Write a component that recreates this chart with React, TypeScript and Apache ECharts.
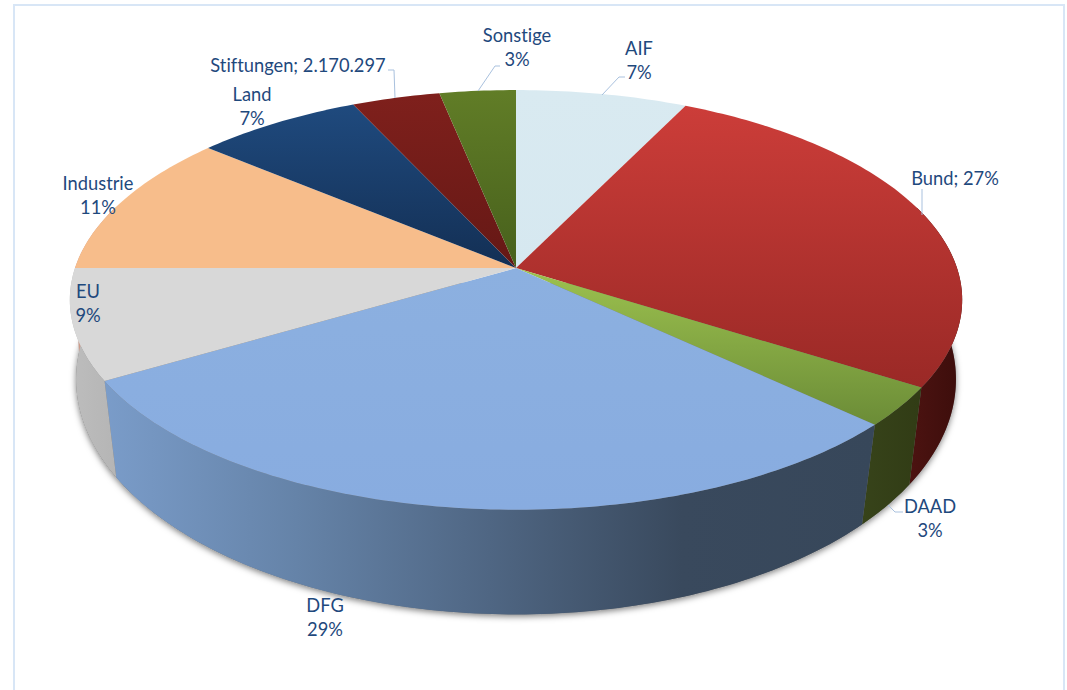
import React, { useEffect, useRef } from "react";
import * as echarts from "echarts";

const categories = ["AIF", "Bund", "DAAD", "DFG", "EU", "Industrie", "Land", "Stiftungen", "Sonstige"];
const shares = [7.2, 26.8, 3.0, 29.5, 8.5, 11.1, 7.0, 3.7, 3.2];
const labelValues = ["7%", "27%", "3%", "29%", "9%", "11%", "7%", "2.170.297", "3%"];
const labelSeparators = ["\n", "; ", "\n", "\n", "\n", "\n", "\n", "; ", "\n"];

const topStops = [
  ["#d9eaf1", "#d6e8f0"],
  ["#cc3d39", "#9a2926"],
  ["#9dc24f", "#6b8c37"],
  ["#8cb0e0", "#88ace0"],
  ["#d8d8d8", "#d8d8d8"],
  ["#f7bd8b", "#f7bd8b"],
  ["#1f4a7e", "#132f54"],
  ["#7f201c", "#651815"],
  ["#617d27", "#47601c"],
];
const wallStops = [
  ["#88aaaa", "#88aaaa"],
  ["#4c1311", "#3c0d0b"],
  ["#37431a", "#313c15"],
  ["#7a9cc9", "#6583a8", "#4f6683", "#39495d", "#37475a"],
  ["#bdbdbd", "#b5b5b5"],
  ["#cc9988", "#cc9988"],
  ["#112233", "#112233"],
  ["#551111", "#551111"],
  ["#334411", "#334411"],
];

const labelPlaces = [
  { x: 639, y: 60 },
  { x: 955, y: 178 },
  { x: 930, y: 518 },
  { x: 325, y: 617 },
  { x: 88, y: 303 },
  { x: 98, y: 195 },
  { x: 252, y: 106 },
  { x: 298, y: 65 },
  { x: 517, y: 47 },
];

const leaderLines = [
  [[625, 77], [619, 77], [602, 95]],
  [[922, 189], [922, 215]],
  [[903, 512], [895, 512], [888, 505]],
  [[388, 70], [394, 70], [395, 98]],
  [[500, 66], [495, 66], [478, 91]],
];

// Projection of the tilted disc: a circle seen in perspective.
const CX = 516;
const topPlane = { y0: 268, a: 441, b: 205, k: 0.152 };
const basePlane = { y0: 352, a: 437, b: 232, k: 0.116 };

function project(plane: typeof topPlane, theta: number): number[] {
  const s = Math.sin(theta);
  const c = Math.cos(theta);
  const w = 1 + plane.k * c;
  return [CX + (plane.a * s) / w, plane.y0 - (plane.b * c) / w];
}

function arcPoints(plane: typeof topPlane, from: number, to: number): number[][] {
  const n = Math.max(2, Math.ceil(((to - from) * 180) / Math.PI));
  const out: number[][] = [];
  for (let i = 0; i <= n; i++) out.push(project(plane, from + ((to - from) * i) / n));
  return out;
}

const total = shares.reduce((a, b) => a + b, 0);
const sliceData = shares.map((v, i) => {
  const before = shares.slice(0, i).reduce((a, b) => a + b, 0);
  return { name: categories[i], value: [(before / total) * Math.PI * 2, ((before + v) / total) * Math.PI * 2, v] };
});

const FRONT_FROM = (72 * Math.PI) / 180;
const FRONT_TO = (288 * Math.PI) / 180;

const renderShadow = (params: any) => {
  if (params.dataIndex !== 0) return { type: "group", children: [] };
  return {
    type: "polygon",
    shape: { points: arcPoints(basePlane, FRONT_FROM, FRONT_TO) },
    style: {
      fill: "#777777",
      shadowBlur: 6,
      shadowColor: "rgba(0,0,0,0.5)",
      shadowOffsetX: 0,
      shadowOffsetY: 2,
    },
  };
};

const renderWall = (params: any, api: any) => {
  const from = Math.max(api.value(0), FRONT_FROM);
  const to = Math.min(api.value(1), FRONT_TO);
  if (to <= from) return { type: "group", children: [] };
  const upper = arcPoints(topPlane, from, to);
  const lower = arcPoints(basePlane, from, to).reverse();
  const st = wallStops[params.dataIndex];
  return {
    type: "polygon",
    shape: { points: upper.concat(lower) },
    style: {
      fill: new echarts.graphic.LinearGradient(
        0,
        0,
        1,
        0,
        st.map((color, i) => ({ offset: i / (st.length - 1), color }))
      ),
    },
  };
};

const renderTop = (params: any, api: any) => {
  const pts = [[CX, topPlane.y0]].concat(arcPoints(topPlane, api.value(0), api.value(1)));
  const st = topStops[params.dataIndex];
  return {
    type: "polygon",
    shape: { points: pts },
    style: {
      fill: new echarts.graphic.LinearGradient(0, 0, 0, 1, [
        { offset: 0, color: st[0] },
        { offset: 1, color: st[1] },
      ]),
    },
  };
};

export default function App() {
  const ref = useRef<HTMLDivElement>(null);
  useEffect(() => {
    const chart = echarts.init(ref.current!, undefined, { renderer: "svg" });
    const base = { type: "custom", coordinateSystem: "none", silent: true, data: sliceData, animation: false };
    chart.setOption({
      animation: false,
      backgroundColor: "#ffffff",
      series: [
        { ...base, name: "shadow", z: 1, renderItem: renderShadow },
        { ...base, name: "walls", z: 2, renderItem: renderWall },
        { ...base, name: "tops", z: 3, renderItem: renderTop },
      ],
      graphic: {
        elements: [
          {
            type: "rect",
            z: 10,
            silent: true,
            shape: { x: 14, y: 5, width: 1050, height: 720 },
            style: { fill: "none", stroke: "#d8e6f6", lineWidth: 2 },
          },
          ...leaderLines.map((points) => ({
            type: "polyline",
            z: 20,
            silent: true,
            shape: { points },
            style: { fill: "none", stroke: "#a9c1de", lineWidth: 1 },
          })),
          ...categories.map((name, i) => ({
            type: "text",
            z: 30,
            silent: true,
            x: labelPlaces[i].x,
            y: labelPlaces[i].y,
            style: {
              text: name + labelSeparators[i] + labelValues[i],
              fill: "#1f497d",
              fontSize: 18.3,
              fontFamily: "Lato",
              lineHeight: 24,
              align: "center",
              verticalAlign: "middle",
            },
          })),
        ],
      },
    });
    return () => chart.dispose();
  }, []);
  return (
    <div
      ref={ref}
      style={{ position: "absolute", left: 0, top: 0, width: 1067, height: 690, fontVariantLigatures: "none" }}
    />
  );
}
